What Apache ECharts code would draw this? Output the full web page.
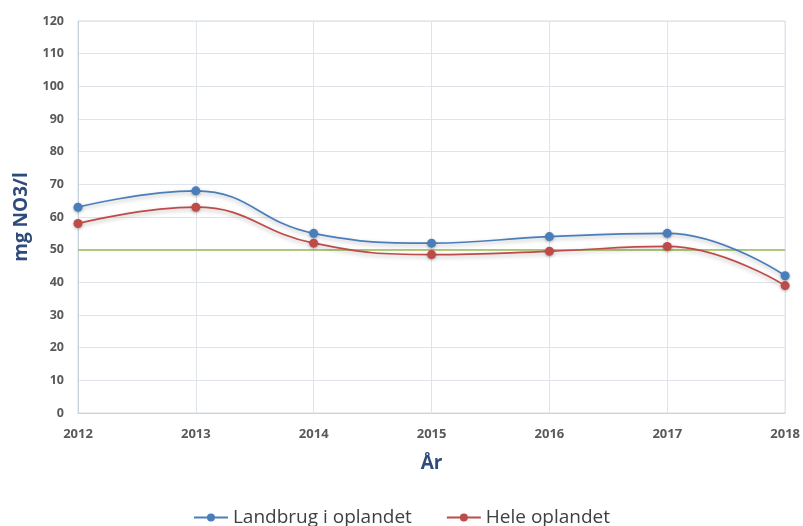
<!DOCTYPE html>
<html>
<head>
<meta charset="utf-8">
<script src="https://cdn.jsdelivr.net/npm/echarts@6/dist/echarts.min.js"></script>
<style>
  html, body { margin: 0; padding: 0; background: #fff; }
  #chart { width: 803px; height: 526px; }
</style>
</head>
<body>
<div id="chart"></div>
<script>
// Nitrate concentration (mg NO3/l) per year
const years = ['2012', '2013', '2014', '2015', '2016', '2017', '2018'];
const landbrug = [63, 68, 55, 52, 54, 55, 42];
const heleOplandet = [58, 63, 52, 48.5, 49.5, 51, 39];
const seriesNames = ['Landbrug i oplandet', 'Hele oplandet'];
const limitValue = 50;
const yTicks = { min: 0, max: 120, interval: 10 };

const FONT = '"Open Sans", "Liberation Sans", sans-serif';
const chart = echarts.init(document.getElementById('chart'));

function lineSeries(name, data, color, withLimit) {
  const s = {
    name: name,
    type: 'line',
    data: data,
    smooth: 0.45,
    symbol: 'circle',
    symbolSize: 9,
    lineStyle: {
      color: color, width: 1.7,
      shadowColor: 'rgba(0,0,0,0.28)', shadowBlur: 4, shadowOffsetY: 2
    },
    itemStyle: {
      color: color,
      shadowColor: 'rgba(0,0,0,0.3)', shadowBlur: 3, shadowOffsetY: 1
    },
    z: 3
  };
  if (withLimit) {
    s.markLine = {
      silent: true,
      symbol: ['none', 'none'],
      label: { show: false },
      lineStyle: { color: '#9bbb59', width: 1.6, type: 'solid' },
      data: [{ yAxis: limitValue }],
      z: 2
    };
  }
  return s;
}

chart.setOption({
  animation: false,
  backgroundColor: '#ffffff',
  grid: { left: 78, right: 16, top: 21, bottom: 113, containLabel: false,
          show: true, borderColor: '#d5dde6', borderWidth: 1 },
  legend: {
    top: 503,
    left: 'center',
    itemGap: 34,
    itemWidth: 34,
    itemHeight: 10,
    textStyle: { fontFamily: FONT, fontSize: 19, color: '#404040', padding: [0, 0, 0, 0] },
    data: seriesNames
  },
  xAxis: {
    type: 'category',
    data: years,
    boundaryGap: false,
    name: 'År',
    nameLocation: 'middle',
    nameGap: 41,
    nameTextStyle: { fontFamily: FONT, fontSize: 19, fontWeight: 'bold', color: '#2f4b7c' },
    axisLine: { lineStyle: { color: '#c9d3de' } },
    axisTick: { show: false },
    axisLabel: { fontFamily: FONT, fontSize: 13, fontWeight: 'bold', color: '#595959', margin: 15 },
    splitLine: { show: true, lineStyle: { color: '#dfe4ea' } }
  },
  yAxis: {
    type: 'value',
    min: yTicks.min,
    max: yTicks.max,
    interval: yTicks.interval,
    name: 'mg NO3/l',
    nameLocation: 'middle',
    nameGap: 47,
    nameTextStyle: { fontFamily: FONT, fontSize: 19, fontWeight: 'bold', color: '#2f4b7c' },
    axisLine: { show: true, lineStyle: { color: '#c9d3de' } },
    axisTick: { show: false },
    axisLabel: { fontFamily: FONT, fontSize: 12.5, fontWeight: 'bold', color: '#595959', margin: 14 },
    splitLine: { show: true, lineStyle: { color: '#dfe4ea' } }
  },
  series: [
    lineSeries(seriesNames[0], landbrug, '#4a7ebb', true),
    lineSeries(seriesNames[1], heleOplandet, '#be4b48', false)
  ]
});
</script>
</body>
</html>
